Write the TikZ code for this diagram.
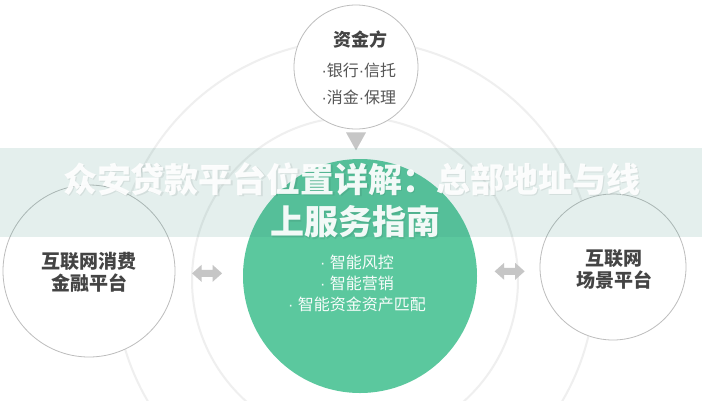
\documentclass[tikz,border=0pt]{standalone}
\usepackage{fontspec}
\newfontfamily\cjk{Noto Sans CJK SC}
\newfontfamily\latn{Liberation Sans}
\usetikzlibrary{calc}
\definecolor{ringgray}{HTML}{EFEFEF}
\definecolor{linegray}{HTML}{BDBDBD}
\definecolor{arrowgray}{HTML}{C6C6C6}
\definecolor{greenfill}{HTML}{5BC89E}
\definecolor{bannertint}{HTML}{2F8A7A}
\definecolor{darktext}{HTML}{444444}
\definecolor{midtext}{HTML}{555555}
\tikzset{
  ring/.style={draw=ringgray, line width=2pt},
  sidecircle/.style={circle, draw=linegray, line width=0.8pt, fill=white, inner sep=0pt},
  titletext/.style={font=\cjk\bfseries\fontsize{34}{40}\selectfont, text=white, text opacity=0.93},
  titleshadow/.style={font=\cjk\bfseries\fontsize{34}{40}\selectfont, text=black, text opacity=0.07},
  pics/fatdoublearrow/.style={code={
    \fill[arrowgray] (-15,0) -- (-5.5,-8.5) -- (-5.5,-3.5) -- (5.5,-3.5) -- (5.5,-8.5) -- (15,0)
      -- (5.5,8.5) -- (5.5,3.5) -- (-5.5,3.5) -- (-5.5,8.5) -- cycle;
  }}
}
\begin{document}
\begin{tikzpicture}[x=1pt,y=-1pt]
\useasboundingbox[fill=white] (0,0) rectangle (702,400);
% background rings
\coordinate (ringc) at (355,280);
\draw[ring] (ringc) circle[radius=240pt];
\draw[ring] (ringc) circle[radius=163pt];
% circles
\node[circle, fill=greenfill, minimum size=234pt, inner sep=0pt] (hub) at (360,276) {};
\node[sidecircle, minimum size=124pt] (top) at (356,67) {};
\node[sidecircle, minimum size=172pt] (left) at (89,271) {};
\node[sidecircle, minimum size=146pt] (right) at (613,267) {};
% texts
\node[font=\cjk\bfseries\fontsize{18}{22}\selectfont, text=darktext] (toptitle) at (360,40) {资金方};
\node[font=\cjk\fontsize{16}{20}\selectfont, text=midtext, anchor=west] (topl1) at (318,70) {{\latn ·}银行{\latn ·}信托};
\node[font=\cjk\fontsize{16}{20}\selectfont, text=midtext, anchor=west] (topl2) at (318,97) {{\latn ·}消金{\latn ·}保理};
\node[font=\cjk\bfseries\fontsize{19}{22}\selectfont, text=darktext, align=center] (lefttext) at (89,272) {互联网消费\\金融平台};
\node[font=\cjk\bfseries\fontsize{19}{22}\selectfont, text=darktext, align=center] (righttext) at (614,269) {互联网\\场景平台};
\node[font=\cjk\fontsize{16}{21}\selectfont, text=white, text opacity=0.95, align=center] (hubtext) at (357,283) {{\latn · }智能风控\\{\latn · }智能营销\\{\latn · }智能资金资产匹配};
% connectors
\fill[arrowgray] ($(top.south)+(-10,3)$) -- ($(top.south)+(10,3)$) -- ($(top.south)+(0,21)$) -- cycle;
\coordinate (arrowL) at ($(left.east)!0.47!(hub.west)$);
\coordinate (arrowR) at ($(hub.east)!0.52!(right.west)$);
\pic at (arrowL) {fatdoublearrow};
\pic at (arrowR) {fatdoublearrow};
% banner
\fill[bannertint, opacity=0.13] (0,148) rectangle (702,237);
\node[titleshadow] (title1s) at (353,180.5) {众安贷款平台位置详解：总部地址与线};
\node[titleshadow] (title2s) at (356,223.5) {上服务指南};
\node[titletext] (title1) at (352,179) {众安贷款平台位置详解：总部地址与线};
\node[titletext] (title2) at (355,222) {上服务指南};
\end{tikzpicture}
\end{document}
